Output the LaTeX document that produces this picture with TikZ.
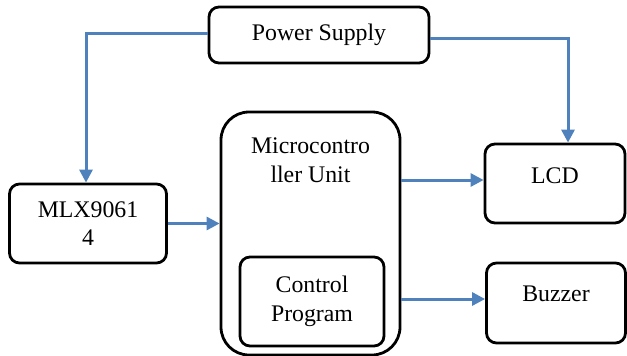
\documentclass[tikz,border=0pt]{standalone}
\usepackage{fontspec}
\setmainfont{Liberation Serif}
\usetikzlibrary{arrows.meta}
\definecolor{lineblue}{HTML}{4F81BD}
\begin{document}
\begin{tikzpicture}[x=1pt,y=-1pt,
  box/.style={draw=black, line width=2.8pt, rounded corners=10pt, align=center,
    font=\fontsize{23.8}{28.5}\selectfont, inner sep=0pt},
  txt/.style={align=center, font=\fontsize{23.8}{28.5}\selectfont, inner sep=0pt},
  arr/.style={draw=lineblue, line width=3pt, -{Triangle[length=13pt,width=13pt]}}]
\useasboundingbox (0,0) rectangle (627,356);
\node[box, minimum width=220pt, minimum height=56pt] (ps) at (319,35) {Power Supply};
\node[box, rounded corners=28pt, minimum width=179pt, minimum height=243pt] (mcu) at (310.5,233.5) {};
\node[txt] (mcutext) at (310.5,160) {Microcontro\\ller Unit};
\node[box, minimum width=140pt, minimum height=79pt,
  label={[txt, yshift=8pt]center:LCD}] (lcd) at (555,183.5) {};
\node[box, minimum width=139pt, minimum height=80pt,
  label={[txt, yshift=9pt]center:Buzzer}] (buzzer) at (556,303) {};
\node[box, minimum width=157pt, minimum height=79pt] (mlx) at (88,223.5) {MLX9061\\4};
\node[box, minimum width=144pt, minimum height=89pt] (cp) at (312,301.5) {Control\\Program};
\draw[arr] (mlx.east) -- (mlx.east -| mcu.west);
\draw[arr] ([yshift=3.5pt]mcu.east |- lcd.west) -- ([yshift=3.5pt]lcd.west);
\draw[arr] ([yshift=4pt]mcu.east |- buzzer.west) -- ([yshift=4pt]buzzer.west);
\draw[arr] ([yshift=2pt]ps.west) -| ([xshift=-2pt]mlx.north);
\draw[arr] ([yshift=-3pt]ps.east) -| ([xshift=13pt]lcd.north);
\end{tikzpicture}
\end{document}
